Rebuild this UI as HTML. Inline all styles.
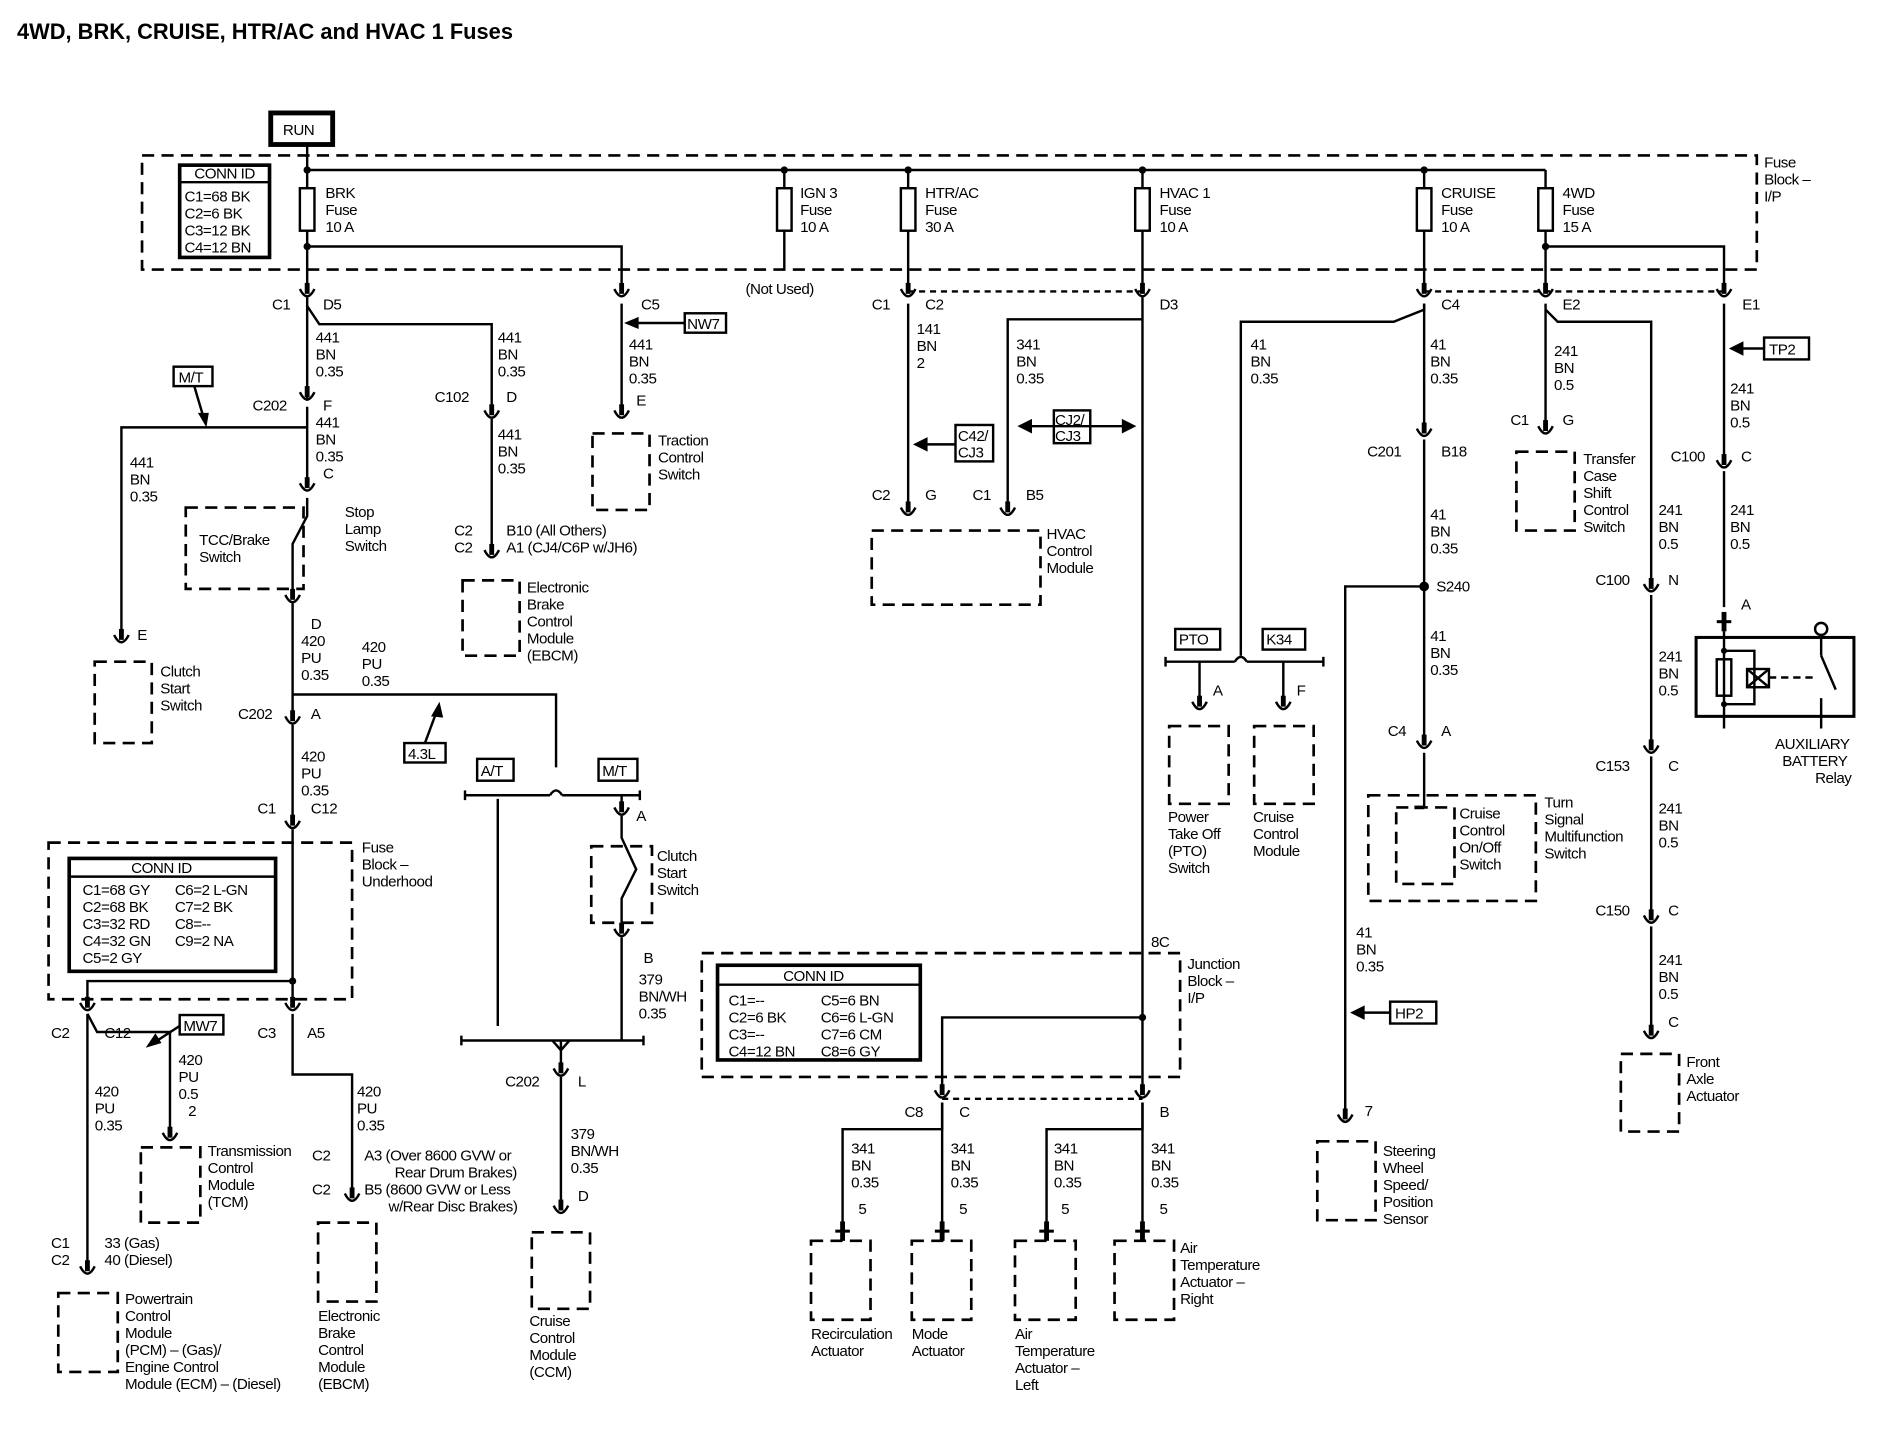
<!DOCTYPE html>
<html><head><meta charset="utf-8"><style>
html,body{margin:0;padding:0;background:#fff}
svg{display:block}
text{font-family:"Liberation Sans",sans-serif;font-size:12.5px;letter-spacing:-0.4px;fill:#000}
.w{stroke:#000;stroke-width:2;fill:none}
.d{stroke:#000;stroke-width:2.2;fill:none;stroke-dasharray:10 6}
.b{stroke:#000;stroke-width:2;fill:#fff}
</style></head><body>
<svg width="1894" height="1440" viewBox="0 0 1560 1186" xmlns="http://www.w3.org/2000/svg">
<defs>
<g id="cn"><path d="M-6,-7 Q0,5 6,-7" fill="none" stroke="#000" stroke-width="2"/><line x1="0" y1="-12" x2="0" y2="-3" stroke="#000" stroke-width="4"/></g>
<g id="st"><line x1="-6" y1="0" x2="6" y2="0" stroke="#000" stroke-width="2.5"/><line x1="0" y1="-8" x2="0" y2="8" stroke="#000" stroke-width="4"/></g>
</defs>
<text x="14" y="32" style="font-size:18px;font-weight:bold;letter-spacing:0">4WD, BRK, CRUISE, HTR/AC and HVAC 1 Fuses</text>

<rect x="223" y="93" width="51" height="26" fill="#fff" stroke="#000" stroke-width="4"/>
<text x="233" y="111">RUN</text>
<line class="w" x1="253" y1="119" x2="253" y2="140"/>

<rect class="d" x="117" y="128" width="1330" height="94"/>
<text x="1453" y="138">Fuse</text><text x="1453" y="152">Block –</text><text x="1453" y="166">I/P</text>
<rect x="148" y="136" width="74" height="76" fill="#fff" stroke="#000" stroke-width="3"/>
<line x1="148" y1="150" x2="222" y2="150" stroke="#000" stroke-width="2"/>
<text x="160" y="147">CONN ID</text>
<text x="152" y="166">C1=68 BK</text><text x="152" y="180">C2=6 BK</text><text x="152" y="194">C3=12 BK</text><text x="152" y="208">C4=12 BN</text>
<line class="w" x1="253" y1="140" x2="1273" y2="140"/>
<g class="w">
<line x1="253" y1="140" x2="253" y2="240"/><line x1="646" y1="140" x2="646" y2="222"/>
<line x1="748" y1="140" x2="748" y2="240"/><line x1="941" y1="140" x2="941" y2="240"/>
<line x1="1173" y1="140" x2="1173" y2="240"/><line x1="1273" y1="140" x2="1273" y2="240"/>
<polyline points="253,203 512,203 512,240"/><polyline points="1273,203 1420,203 1420,240"/>
</g>
<g class="b"><rect x="247" y="155" width="12" height="35"/><rect x="640" y="155" width="12" height="35"/><rect x="742" y="155" width="12" height="35"/><rect x="935" y="155" width="12" height="35"/><rect x="1167" y="155" width="12" height="35"/><rect x="1267" y="155" width="12" height="35"/></g>
<circle cx="253" cy="140" r="3"/><circle cx="253" cy="203" r="3"/><circle cx="646" cy="140" r="3"/><circle cx="748" cy="140" r="3"/><circle cx="941" cy="140" r="3"/><circle cx="1173" cy="140" r="3"/><circle cx="1273" cy="203" r="3"/>
<text x="268" y="163">BRK</text><text x="268" y="177">Fuse</text><text x="268" y="191">10 A</text>
<text x="659" y="163">IGN 3</text><text x="659" y="177">Fuse</text><text x="659" y="191">10 A</text>
<text x="762" y="163">HTR/AC</text><text x="762" y="177">Fuse</text><text x="762" y="191">30 A</text>
<text x="955" y="163">HVAC 1</text><text x="955" y="177">Fuse</text><text x="955" y="191">10 A</text>
<text x="1187" y="163">CRUISE</text><text x="1187" y="177">Fuse</text><text x="1187" y="191">10 A</text>
<text x="1287" y="163">4WD</text><text x="1287" y="177">Fuse</text><text x="1287" y="191">15 A</text>
<text x="614" y="242">(Not Used)</text>
<line x1="748" y1="240" x2="941" y2="240" stroke="#000" stroke-width="2" stroke-dasharray="5 4"/>
<line x1="1173" y1="240" x2="1420" y2="240" stroke="#000" stroke-width="2" stroke-dasharray="5 4"/>
<use href="#cn" x="253" y="245"/><use href="#cn" x="512" y="245"/><use href="#cn" x="748" y="245"/><use href="#cn" x="941" y="245"/><use href="#cn" x="1173" y="245"/><use href="#cn" x="1273" y="245"/><use href="#cn" x="1420" y="245"/>
<text x="224" y="255">C1</text><text x="266" y="255">D5</text><text x="528" y="255">C5</text>
<text x="718" y="255">C1</text><text x="762" y="255">C2</text><text x="955" y="255">D3</text>
<text x="1187" y="255">C4</text><text x="1287" y="255">E2</text><text x="1435" y="255">E1</text>

<g class="w">
<line x1="253" y1="245" x2="253" y2="330"/>
<polyline points="253,252 263,267 405,267 405,340"/>
<polyline points="253,352 100,352 100,525"/>
<line x1="253" y1="335" x2="253" y2="400"/>
<line x1="241" y1="497" x2="241" y2="592"/>
<polyline points="241,572 458,572 458,632"/>
<line x1="241" y1="597" x2="241" y2="678"/>
<line x1="241" y1="683" x2="241" y2="828"/>
<polyline points="241,808 72,808 72,828"/>
<polyline points="72,835 80,850 140,850 140,935"/>
<line x1="72" y1="835" x2="72" y2="1045"/>
<polyline points="241,835 241,885 290,885 290,985"/>
<line x1="405" y1="345" x2="405" y2="455"/>
<line x1="512" y1="250" x2="512" y2="340"/>
</g>
<circle cx="241" cy="808" r="3"/>
<use href="#cn" x="253" y="330"/><use href="#cn" x="405" y="345"/><use href="#cn" x="100" y="530"/><use href="#cn" x="253" y="405"/><use href="#cn" x="241" y="497"/><use href="#cn" x="241" y="597"/><use href="#cn" x="241" y="683"/><use href="#cn" x="72" y="833"/><use href="#cn" x="241" y="833"/><use href="#cn" x="140" y="940"/><use href="#cn" x="72" y="1050"/><use href="#cn" x="290" y="990"/><use href="#cn" x="405" y="460"/><use href="#cn" x="512" y="345"/>
<text x="260" y="282">441</text><text x="260" y="296">BN</text><text x="260" y="310">0.35</text>
<text x="410" y="282">441</text><text x="410" y="296">BN</text><text x="410" y="310">0.35</text>
<text x="518" y="288">441</text><text x="518" y="302">BN</text><text x="518" y="316">0.35</text><text x="524" y="334">E</text>
<text x="208" y="338">C202</text><text x="266" y="338">F</text>
<text x="358" y="331">C102</text><text x="417" y="331">D</text>
<text x="260" y="352">441</text><text x="260" y="366">BN</text><text x="260" y="380">0.35</text><text x="266" y="394">C</text>
<text x="107" y="385">441</text><text x="107" y="399">BN</text><text x="107" y="413">0.35</text>
<text x="113" y="527">E</text>
<rect x="143" y="302" width="32" height="16" class="b"/><text x="147" y="315">M/T</text>
<polyline class="w" points="160,318 168,345"/><path d="M170,352 L163,340 L172,340 Z"/>
<rect class="d" x="153" y="418" width="97" height="67"/>
<text x="164" y="449">TCC/Brake</text><text x="164" y="463">Switch</text>
<polyline class="w" points="253,410 253,425 241,448 241,488"/>
<text x="284" y="426">Stop</text><text x="284" y="440">Lamp</text><text x="284" y="454">Switch</text>
<text x="256" y="518">D</text><text x="248" y="532">420</text><text x="248" y="546">PU</text><text x="248" y="560">0.35</text>
<text x="298" y="537">420</text><text x="298" y="551">PU</text><text x="298" y="565">0.35</text>
<text x="196" y="592">C202</text><text x="256" y="592">A</text>
<rect x="333" y="612" width="34" height="16" class="b"/><text x="336" y="625">4.3L</text>
<line class="w" x1="350" y1="612" x2="360" y2="585"/><path d="M362,578 L355,590 L365,591 Z"/>
<text x="248" y="627">420</text><text x="248" y="641">PU</text><text x="248" y="655">0.35</text>
<text x="212" y="670">C1</text><text x="256" y="670">C12</text>
<rect class="d" x="40" y="694" width="250" height="129"/>
<text x="298" y="702">Fuse</text><text x="298" y="716">Block –</text><text x="298" y="730">Underhood</text>
<rect x="57" y="707" width="170" height="93" fill="#fff" stroke="#000" stroke-width="3"/>
<line x1="57" y1="722" x2="227" y2="722" stroke="#000" stroke-width="2"/>
<text x="108" y="719">CONN ID</text>
<text x="68" y="737">C1=68 GY</text><text x="68" y="751">C2=68 BK</text><text x="68" y="765">C3=32 RD</text><text x="68" y="779">C4=32 GN</text><text x="68" y="793">C5=2 GY</text>
<text x="144" y="737">C6=2 L-GN</text><text x="144" y="751">C7=2 BK</text><text x="144" y="765">C8=--</text><text x="144" y="779">C9=2 NA</text>
<text x="42" y="855">C2</text><text x="86" y="855">C12</text><text x="212" y="855">C3</text><text x="253" y="855">A5</text>
<rect x="148" y="836" width="36" height="16" class="b"/><text x="151" y="849">MW7</text>
<line class="w" x1="148" y1="845" x2="128" y2="858"/><path d="M120,863 L128,851 L133,859 Z"/>
<text x="147" y="877">420</text><text x="147" y="891">PU</text><text x="147" y="905">0.5</text><text x="155" y="919">2</text>
<text x="78" y="903">420</text><text x="78" y="917">PU</text><text x="78" y="931">0.35</text>
<text x="294" y="903">420</text><text x="294" y="917">PU</text><text x="294" y="931">0.35</text>
<rect class="d" x="116" y="945" width="49" height="62"/>
<text x="171" y="952">Transmission</text><text x="171" y="966">Control</text><text x="171" y="980">Module</text><text x="171" y="994">(TCM)</text>
<text x="257" y="956">C2</text><text x="257" y="984">C2</text>
<text x="300" y="956">A3 (Over 8600 GVW or</text><text x="325" y="970">Rear Drum Brakes)</text><text x="300" y="984">B5 (8600 GVW or Less</text><text x="320" y="998">w/Rear Disc Brakes)</text>
<rect class="d" x="262" y="1007" width="48" height="65"/>
<text x="262" y="1088">Electronic</text><text x="262" y="1102">Brake</text><text x="262" y="1116">Control</text><text x="262" y="1130">Module</text><text x="262" y="1144">(EBCM)</text>
<text x="42" y="1028">C1</text><text x="42" y="1042">C2</text><text x="86" y="1028">33 (Gas)</text><text x="86" y="1042">40 (Diesel)</text>
<rect class="d" x="48" y="1065" width="49" height="65"/>
<text x="103" y="1074">Powertrain</text><text x="103" y="1088">Control</text><text x="103" y="1102">Module</text><text x="103" y="1116">(PCM) – (Gas)/</text><text x="103" y="1130">Engine Control</text><text x="103" y="1144">Module (ECM) – (Diesel)</text>
<rect class="d" x="78" y="545" width="47" height="67"/>
<text x="132" y="557">Clutch</text><text x="132" y="571">Start</text><text x="132" y="585">Switch</text>
<text x="410" y="362">441</text><text x="410" y="376">BN</text><text x="410" y="390">0.35</text>
<text x="374" y="441">C2</text><text x="374" y="455">C2</text><text x="417" y="441">B10 (All Others)</text><text x="417" y="455">A1 (CJ4/C6P w/JH6)</text>
<rect class="d" x="381" y="478" width="47" height="62"/>
<text x="434" y="488">Electronic</text><text x="434" y="502">Brake</text><text x="434" y="516">Control</text><text x="434" y="530">Module</text><text x="434" y="544">(EBCM)</text>
<rect x="564" y="258" width="34" height="16" class="b"/><text x="566" y="271">NW7</text>
<line class="w" x1="564" y1="266" x2="522" y2="266"/><path d="M514,266 L526,261 L526,271 Z"/>
<rect class="d" x="488" y="357" width="47" height="63"/>
<text x="542" y="367">Traction</text><text x="542" y="381">Control</text><text x="542" y="395">Switch</text>
<g class="w">
<line x1="383" y1="655" x2="453" y2="655"/><path d="M453,655 q5,-8 10,0"/><line x1="463" y1="655" x2="527" y2="655"/>
<line x1="383" y1="651" x2="383" y2="659"/><line x1="527" y1="651" x2="527" y2="659"/>
<line x1="410" y1="658" x2="410" y2="845"/>
<line x1="512" y1="655" x2="512" y2="665"/>
<polyline points="512,672 512,690 524,716 512,740 512,765"/>
<line x1="512" y1="772" x2="512" y2="857"/>
<line x1="380" y1="857" x2="530" y2="857"/>
<line x1="380" y1="853" x2="380" y2="861"/><line x1="530" y1="853" x2="530" y2="861"/>
<line x1="462" y1="857" x2="462" y2="880"/>
<line x1="462" y1="887" x2="462" y2="995"/>
</g>
<path d="M455,857 l7,8 l7,-8" class="w"/>
<rect x="393" y="625" width="30" height="18" class="b"/><text x="396" y="639">A/T</text>
<rect x="493" y="625" width="32" height="18" class="b"/><text x="496" y="639">M/T</text>
<use href="#cn" x="512" y="672"/><use href="#cn" x="512" y="772"/><use href="#cn" x="462" y="887"/><use href="#cn" x="462" y="1000"/>
<text x="524" y="676">A</text><text x="530" y="793">B</text>
<rect class="d" x="487" y="697" width="50" height="63"/>
<text x="541" y="709">Clutch</text><text x="541" y="723">Start</text><text x="541" y="737">Switch</text>
<text x="526" y="811">379</text><text x="526" y="825">BN/WH</text><text x="526" y="839">0.35</text>
<text x="416" y="895">C202</text><text x="476" y="895">L</text>
<text x="470" y="938">379</text><text x="470" y="952">BN/WH</text><text x="470" y="966">0.35</text><text x="476" y="989">D</text>
<rect class="d" x="438" y="1015" width="48" height="63"/>
<text x="436" y="1092">Cruise</text><text x="436" y="1106">Control</text><text x="436" y="1120">Module</text><text x="436" y="1134">(CCM)</text>

<g class="w">
<line x1="748" y1="250" x2="748" y2="420"/>
<polyline points="941,263 830,263 830,420"/>
<line x1="941" y1="245" x2="941" y2="900"/>
<polyline points="941,838 776,838 776,900"/>
<polyline points="776,908 776,930 694,930 694,1008"/>
<line x1="776" y1="908" x2="776" y2="1008"/>
<polyline points="941,908 941,930 862,930 862,1008"/>
<line x1="941" y1="908" x2="941" y2="1008"/>
</g>
<circle cx="941" cy="838" r="3"/>
<use href="#cn" x="748" y="425"/><use href="#cn" x="830" y="425"/><use href="#cn" x="776" y="905"/><use href="#cn" x="941" y="905"/>
<text x="755" y="275">141</text><text x="755" y="289">BN</text><text x="755" y="303">2</text>
<text x="837" y="288">341</text><text x="837" y="302">BN</text><text x="837" y="316">0.35</text>
<rect x="787" y="350" width="31" height="30" class="b"/><text x="789" y="363">C42/</text><text x="789" y="377">CJ3</text>
<line class="w" x1="787" y1="366" x2="762" y2="366"/><path d="M752,366 L764,360 L764,372 Z"/>
<rect x="868" y="338" width="30" height="27" class="b"/><text x="869" y="350">CJ2/</text><text x="869" y="363">CJ3</text>
<line class="w" x1="848" y1="351" x2="925" y2="351"/><path d="M838,351 L850,345 L850,357 Z"/><path d="M936,351 L924,345 L924,357 Z"/>
<text x="718" y="412">C2</text><text x="762" y="412">G</text><text x="801" y="412">C1</text><text x="845" y="412">B5</text>
<rect class="d" x="718" y="437" width="139" height="61"/>
<text x="862" y="444">HVAC</text><text x="862" y="458">Control</text><text x="862" y="472">Module</text>
<rect class="d" x="578" y="785" width="394" height="102"/>
<text x="978" y="798">Junction</text><text x="978" y="812">Block –</text><text x="978" y="826">I/P</text>
<text x="948" y="780">8C</text>
<rect x="591" y="795" width="167" height="78" fill="#fff" stroke="#000" stroke-width="3"/>
<line x1="591" y1="811" x2="758" y2="811" stroke="#000" stroke-width="2"/>
<text x="645" y="808">CONN ID</text>
<text x="600" y="828">C1=--</text><text x="600" y="842">C2=6 BK</text><text x="600" y="856">C3=--</text><text x="600" y="870">C4=12 BN</text>
<text x="676" y="828">C5=6 BN</text><text x="676" y="842">C6=6 L-GN</text><text x="676" y="856">C7=6 CM</text><text x="676" y="870">C8=6 GY</text>
<line x1="776" y1="905" x2="941" y2="905" stroke="#000" stroke-width="2" stroke-dasharray="5 4"/>
<text x="745" y="920">C8</text><text x="790" y="920">C</text><text x="955" y="920">B</text>
<text x="701" y="950">341</text><text x="701" y="964">BN</text><text x="701" y="978">0.35</text>
<text x="783" y="950">341</text><text x="783" y="964">BN</text><text x="783" y="978">0.35</text>
<text x="868" y="950">341</text><text x="868" y="964">BN</text><text x="868" y="978">0.35</text>
<text x="948" y="950">341</text><text x="948" y="964">BN</text><text x="948" y="978">0.35</text>
<text x="707" y="1000">5</text><text x="790" y="1000">5</text><text x="874" y="1000">5</text><text x="955" y="1000">5</text>
<use href="#st" x="694" y="1014"/><use href="#st" x="776" y="1014"/><use href="#st" x="862" y="1014"/><use href="#st" x="941" y="1014"/>
<rect class="d" x="668" y="1022" width="49" height="65"/><rect class="d" x="751" y="1022" width="49" height="65"/><rect class="d" x="836" y="1022" width="50" height="65"/><rect class="d" x="918" y="1022" width="49" height="65"/>
<text x="668" y="1103">Recirculation</text><text x="668" y="1117">Actuator</text>
<text x="751" y="1103">Mode</text><text x="751" y="1117">Actuator</text>
<text x="836" y="1103">Air</text>
<text x="836" y="1117">Temperature</text><text x="836" y="1131">Actuator –</text><text x="836" y="1145">Left</text>
<text x="972" y="1032">Air</text><text x="972" y="1046">Temperature</text><text x="972" y="1060">Actuator –</text><text x="972" y="1074">Right</text>

<g class="w">
<polyline points="1173,250 1173,255 1148,265 1022,265 1022,540"/>
<line x1="1173" y1="250" x2="1173" y2="355"/>
<line x1="1173" y1="362" x2="1173" y2="610"/>
<polyline points="1173,483 1108,483 1108,920"/>
<line x1="1173" y1="620" x2="1173" y2="665"/>
<line x1="960" y1="545" x2="1017" y2="545"/><path d="M1017,545 q5,-8 10,0"/><line x1="1027" y1="545" x2="1090" y2="545"/>
<line x1="960" y1="541" x2="960" y2="549"/><line x1="1090" y1="541" x2="1090" y2="549"/>
<line x1="988" y1="545" x2="988" y2="580"/><line x1="1057" y1="545" x2="1057" y2="580"/>
</g>
<circle cx="1173" cy="483" r="4"/>
<use href="#cn" x="1173" y="360"/><use href="#cn" x="1173" y="617"/><use href="#cn" x="1108" y="925"/><use href="#cn" x="988" y="585"/><use href="#cn" x="1057" y="585"/>
<text x="1030" y="288">41</text><text x="1030" y="302">BN</text><text x="1030" y="316">0.35</text>
<text x="1178" y="288">41</text><text x="1178" y="302">BN</text><text x="1178" y="316">0.35</text>
<text x="1126" y="376">C201</text><text x="1187" y="376">B18</text>
<text x="1178" y="428">41</text><text x="1178" y="442">BN</text><text x="1178" y="456">0.35</text>
<text x="1183" y="487">S240</text>
<text x="1178" y="528">41</text><text x="1178" y="542">BN</text><text x="1178" y="556">0.35</text>
<text x="1143" y="606">C4</text><text x="1187" y="606">A</text>
<rect x="968" y="518" width="37" height="17" class="b"/><text x="971" y="531">PTO</text>
<rect x="1040" y="518" width="35" height="17" class="b"/><text x="1043" y="531">K34</text>
<text x="999" y="573">A</text><text x="1068" y="573">F</text>
<rect class="d" x="963" y="598" width="49" height="64"/><rect class="d" x="1033" y="598" width="49" height="64"/>
<text x="962" y="677">Power</text><text x="962" y="691">Take Off</text><text x="962" y="705">(PTO)</text><text x="962" y="719">Switch</text>
<text x="1032" y="677">Cruise</text><text x="1032" y="691">Control</text><text x="1032" y="705">Module</text>
<rect class="d" x="1127" y="655" width="138" height="87"/>
<rect class="d" x="1150" y="665" width="48" height="63"/>
<line x1="1165" y1="665" x2="1173" y2="665" stroke="#000" stroke-width="3"/>
<text x="1202" y="674">Cruise</text><text x="1202" y="688">Control</text><text x="1202" y="702">On/Off</text><text x="1202" y="716">Switch</text>
<text x="1272" y="665">Turn</text><text x="1272" y="679">Signal</text><text x="1272" y="693">Multifunction</text><text x="1272" y="707">Switch</text>
<text x="1117" y="772">41</text><text x="1117" y="786">BN</text><text x="1117" y="800">0.35</text>
<rect x="1145" y="825" width="38" height="18" class="b"/><text x="1149" y="839">HP2</text>
<line class="w" x1="1145" y1="834" x2="1122" y2="834"/><path d="M1112,834 L1124,828 L1124,840 Z"/>
<text x="1124" y="919">7</text>
<rect class="d" x="1085" y="940" width="48" height="65"/>
<text x="1139" y="952">Steering</text><text x="1139" y="966">Wheel</text><text x="1139" y="980">Speed/</text><text x="1139" y="994">Position</text><text x="1139" y="1008">Sensor</text>

<g class="w">
<line x1="1273" y1="250" x2="1273" y2="352"/>
<polyline points="1273,255 1283,265 1360,265 1360,482"/>
<line x1="1360" y1="490" x2="1360" y2="615"/>
<line x1="1360" y1="623" x2="1360" y2="755"/>
<line x1="1360" y1="763" x2="1360" y2="850"/>
<line x1="1420" y1="250" x2="1420" y2="380"/>
<line x1="1420" y1="388" x2="1420" y2="500"/>
</g>
<use href="#cn" x="1273" y="358"/><use href="#cn" x="1360" y="488"/><use href="#cn" x="1360" y="621"/><use href="#cn" x="1360" y="761"/><use href="#cn" x="1360" y="856"/><use href="#cn" x="1420" y="386"/><use href="#st" x="1420" y="512"/>
<text x="1280" y="293">241</text><text x="1280" y="307">BN</text><text x="1280" y="321">0.5</text>
<text x="1244" y="350">C1</text><text x="1287" y="350">G</text>
<rect class="d" x="1249" y="372" width="48" height="65"/>
<text x="1304" y="382">Transfer</text><text x="1304" y="396">Case</text><text x="1304" y="410">Shift</text><text x="1304" y="424">Control</text><text x="1304" y="438">Switch</text>
<rect x="1453" y="278" width="37" height="18" class="b"/><text x="1457" y="292">TP2</text>
<line class="w" x1="1453" y1="287" x2="1434" y2="287"/><path d="M1424,287 L1436,281 L1436,293 Z"/>
<text x="1425" y="324">241</text><text x="1425" y="338">BN</text><text x="1425" y="352">0.5</text>
<text x="1376" y="380">C100</text><text x="1434" y="380">C</text>
<text x="1366" y="424">241</text><text x="1366" y="438">BN</text><text x="1366" y="452">0.5</text>
<text x="1425" y="424">241</text><text x="1425" y="438">BN</text><text x="1425" y="452">0.5</text>
<text x="1314" y="482">C100</text><text x="1374" y="482">N</text>
<text x="1434" y="502">A</text>
<text x="1366" y="545">241</text><text x="1366" y="559">BN</text><text x="1366" y="573">0.5</text>
<text x="1314" y="635">C153</text><text x="1374" y="635">C</text>
<text x="1366" y="670">241</text><text x="1366" y="684">BN</text><text x="1366" y="698">0.5</text>
<text x="1314" y="754">C150</text><text x="1374" y="754">C</text>
<text x="1366" y="795">241</text><text x="1366" y="809">BN</text><text x="1366" y="823">0.5</text>
<text x="1374" y="846">C</text>
<rect class="d" x="1335" y="868" width="48" height="64"/>
<text x="1389" y="879">Front</text><text x="1389" y="893">Axle</text><text x="1389" y="907">Actuator</text>
<rect x="1397" y="525" width="130" height="65" fill="#fff" stroke="#000" stroke-width="2.5"/>
<g class="w">
<line x1="1420" y1="520" x2="1420" y2="600"/>
<rect x="1414" y="543" width="12" height="30"/>
<polyline points="1420,536 1445,536 1445,580 1420,580"/>
<rect x="1439" y="551" width="18" height="15"/>
<line x1="1439" y1="551" x2="1457" y2="566"/><line x1="1457" y1="551" x2="1439" y2="566"/>
<line x1="1457" y1="558" x2="1495" y2="558" stroke-dasharray="6 4"/>
<line x1="1500" y1="520" x2="1500" y2="540"/><line x1="1500" y1="540" x2="1512" y2="568"/>
<line x1="1500" y1="575" x2="1500" y2="600"/>
</g>
<circle cx="1500" cy="518" r="5" fill="#fff" stroke="#000" stroke-width="2"/>
<circle cx="1420" cy="536" r="2.5"/><circle cx="1420" cy="580" r="2.5"/>
<text x="1462" y="617">AUXILIARY</text><text x="1468" y="631">BATTERY</text><text x="1495" y="645">Relay</text>
</svg>
</body></html>
